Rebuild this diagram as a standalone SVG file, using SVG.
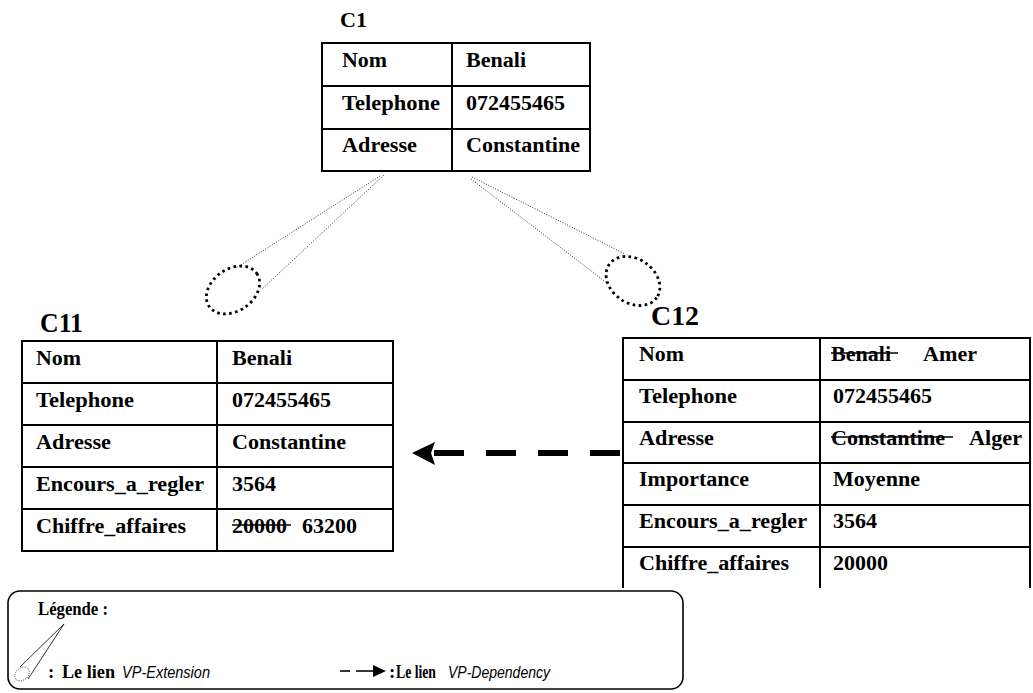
<svg xmlns="http://www.w3.org/2000/svg" width="1033" height="693" viewBox="0 0 1033 693">
  <style>
    .cell { font-family: "Liberation Serif", "Times New Roman", serif; font-weight: bold; font-size: 20px; fill: #000; }
    .title { font-family: "Liberation Serif", "Times New Roman", serif; font-weight: bold; fill: #000; }
    .grid { stroke: #000; stroke-width: 2; fill: none; }
    .strike { stroke: #000; stroke-width: 1.6; }
    .cone { stroke: #333; stroke-width: 1; stroke-dasharray: 1 1.6; fill: none; }
    .ring { stroke: #000; stroke-width: 2.8; stroke-dasharray: 2.6 3.4; fill: none; }
    .leg { font-family: "Liberation Serif", "Times New Roman", serif; font-weight: bold; font-size: 19px; fill: #000; }
    .legi { font-family: "Liberation Sans", Arial, sans-serif; font-style: italic; font-size: 16px; fill: #000; }
  </style>
  <rect width="1033" height="693" fill="#fff"/>

  <!-- C1 : parent component -->
  <g id="c1">
    <text class="title" x="340" y="27" font-size="21" textLength="27" lengthAdjust="spacingAndGlyphs">C1</text>
    <rect class="grid" x="322" y="43" width="268" height="128"/>
    <line class="grid" x1="452" y1="43" x2="452" y2="171"/>
    <line class="grid" x1="322" y1="86" x2="590" y2="86"/>
    <line class="grid" x1="322" y1="129" x2="590" y2="129"/>
    <text class="cell" x="342" y="66.5" textLength="45" lengthAdjust="spacingAndGlyphs">Nom</text>
    <text class="cell" x="466" y="66.5" textLength="60" lengthAdjust="spacingAndGlyphs">Benali</text>
    <text class="cell" x="342" y="109.5" textLength="98" lengthAdjust="spacingAndGlyphs">Telephone</text>
    <text class="cell" x="466" y="109.5" textLength="99" lengthAdjust="spacingAndGlyphs">072455465</text>
    <text class="cell" x="342" y="151.5" textLength="75" lengthAdjust="spacingAndGlyphs">Adresse</text>
    <text class="cell" x="466" y="151.5" textLength="114" lengthAdjust="spacingAndGlyphs">Constantine</text>
  </g>

  <!-- C11 : first extension -->
  <g id="c11">
    <text class="title" x="40" y="332" font-size="27" textLength="43" lengthAdjust="spacingAndGlyphs">C11</text>
    <rect class="grid" x="22" y="341" width="371" height="210"/>
    <line class="grid" x1="217" y1="341" x2="217" y2="551"/>
    <line class="grid" x1="22" y1="383" x2="393" y2="383"/>
    <line class="grid" x1="22" y1="425" x2="393" y2="425"/>
    <line class="grid" x1="22" y1="467" x2="393" y2="467"/>
    <line class="grid" x1="22" y1="509" x2="393" y2="509"/>
    <text class="cell" x="36" y="364.5" textLength="45" lengthAdjust="spacingAndGlyphs">Nom</text>
    <text class="cell" x="232" y="364.5" textLength="60" lengthAdjust="spacingAndGlyphs">Benali</text>
    <text class="cell" x="36" y="406.5" textLength="98" lengthAdjust="spacingAndGlyphs">Telephone</text>
    <text class="cell" x="232" y="406.5" textLength="99" lengthAdjust="spacingAndGlyphs">072455465</text>
    <text class="cell" x="36" y="448.5" textLength="75" lengthAdjust="spacingAndGlyphs">Adresse</text>
    <text class="cell" x="232" y="448.5" textLength="114" lengthAdjust="spacingAndGlyphs">Constantine</text>
    <text class="cell" x="36" y="490.5" textLength="168" lengthAdjust="spacingAndGlyphs">Encours_a_regler</text>
    <text class="cell" x="232" y="490.5" textLength="44" lengthAdjust="spacingAndGlyphs">3564</text>
    <text class="cell" x="36" y="532.5" textLength="150" lengthAdjust="spacingAndGlyphs">Chiffre_affaires</text>
    <text class="cell" x="232" y="532.5" textLength="55" lengthAdjust="spacingAndGlyphs">20000</text>
    <line class="strike" x1="232" y1="525" x2="291" y2="525"/>
    <text class="cell" x="302" y="532.5" textLength="55" lengthAdjust="spacingAndGlyphs">63200</text>
  </g>

  <!-- C12 : second extension -->
  <g id="c12">
    <text class="title" x="651" y="325" font-size="27" textLength="48" lengthAdjust="spacingAndGlyphs">C12</text>
    <line class="grid" x1="623" y1="338" x2="1030" y2="338"/>
    <line class="grid" x1="623" y1="380" x2="1030" y2="380"/>
    <line class="grid" x1="623" y1="422" x2="1030" y2="422"/>
    <line class="grid" x1="623" y1="463" x2="1030" y2="463"/>
    <line class="grid" x1="623" y1="505" x2="1030" y2="505"/>
    <line class="grid" x1="623" y1="547" x2="1030" y2="547"/>
    <line class="grid" x1="623" y1="337" x2="623" y2="588"/>
    <line class="grid" x1="820" y1="337" x2="820" y2="588"/>
    <line class="grid" x1="1030" y1="337" x2="1030" y2="588"/>
    <text class="cell" x="639" y="360.5" textLength="45" lengthAdjust="spacingAndGlyphs">Nom</text>
    <text class="cell" x="831" y="360.5" textLength="60" lengthAdjust="spacingAndGlyphs">Benali</text>
    <line class="strike" x1="831" y1="353" x2="898" y2="353"/>
    <text class="cell" x="923" y="360.5" textLength="54" lengthAdjust="spacingAndGlyphs">Amer</text>
    <text class="cell" x="639" y="402.5" textLength="98" lengthAdjust="spacingAndGlyphs">Telephone</text>
    <text class="cell" x="833" y="402.5" textLength="99" lengthAdjust="spacingAndGlyphs">072455465</text>
    <text class="cell" x="639" y="444.5" textLength="75" lengthAdjust="spacingAndGlyphs">Adresse</text>
    <text class="cell" x="831" y="444.5" textLength="114" lengthAdjust="spacingAndGlyphs">Constantine</text>
    <line class="strike" x1="831" y1="437" x2="953" y2="437"/>
    <text class="cell" x="969" y="444.5" textLength="53" lengthAdjust="spacingAndGlyphs">Alger</text>
    <text class="cell" x="639" y="485.5" textLength="110" lengthAdjust="spacingAndGlyphs">Importance</text>
    <text class="cell" x="833" y="485.5" textLength="87" lengthAdjust="spacingAndGlyphs">Moyenne</text>
    <text class="cell" x="639" y="527.5" textLength="168" lengthAdjust="spacingAndGlyphs">Encours_a_regler</text>
    <text class="cell" x="833" y="527.5" textLength="44" lengthAdjust="spacingAndGlyphs">3564</text>
    <text class="cell" x="639" y="569.5" textLength="150" lengthAdjust="spacingAndGlyphs">Chiffre_affaires</text>
    <text class="cell" x="833" y="569.5" textLength="55" lengthAdjust="spacingAndGlyphs">20000</text>
  </g>

  <!-- connectors: VP-Extension cones and VP-Dependency arrow -->
  <g id="connectors">
    <line class="cone" x1="380" y1="176" x2="236" y2="268"/>
    <line class="cone" x1="384" y1="175" x2="262" y2="289"/>
    <ellipse class="ring" cx="233" cy="290" rx="29" ry="21" transform="rotate(-35 233 290)"/>
    <line class="cone" x1="472" y1="177" x2="625" y2="254"/>
    <line class="cone" x1="471" y1="179" x2="607" y2="283"/>
    <ellipse class="ring" cx="633" cy="281" rx="29" ry="22" transform="rotate(35 633 281)"/>
    <line x1="620" y1="453" x2="433" y2="453" stroke="#000" stroke-width="6" stroke-dasharray="30 22"/>
    <polygon points="412,453 435,442 431,453 435,465" fill="#000"/>
  </g>

  <!-- legend -->
  <g id="legend">
    <rect x="8" y="591" width="675" height="98" rx="12" ry="12" fill="none" stroke="#000" stroke-width="1.6"/>
    <text class="leg" x="38" y="615" textLength="70" lengthAdjust="spacingAndGlyphs">Légende :</text>
    <line x1="64" y1="624" x2="20" y2="667" stroke="#000" stroke-width="0.8"/>
    <line x1="64" y1="624" x2="28" y2="679" stroke="#000" stroke-width="0.8"/>
    <ellipse cx="22" cy="674" rx="8" ry="6" transform="rotate(-40 22 674)" fill="#fff" stroke="#333" stroke-width="0.8" stroke-dasharray="1 1.2"/>
    <text class="leg" x="48" y="678">:</text>
    <text class="leg" x="62" y="678" textLength="53" lengthAdjust="spacingAndGlyphs">Le lien</text>
    <text class="legi" x="122" y="678" textLength="88" lengthAdjust="spacingAndGlyphs">VP-Extension</text>
    <line x1="340" y1="671" x2="350" y2="671" stroke="#000" stroke-width="1.6"/>
    <line x1="356" y1="671" x2="374" y2="671" stroke="#000" stroke-width="1.6"/>
    <polygon points="373,665 386,671 373,677" fill="#000"/>
    <text class="leg" x="389" y="678">:</text>
    <text class="leg" x="396" y="678" textLength="40" lengthAdjust="spacingAndGlyphs">Le lien</text>
    <text class="legi" x="448" y="678" textLength="102" lengthAdjust="spacingAndGlyphs">VP-Dependency</text>
  </g>
</svg>
